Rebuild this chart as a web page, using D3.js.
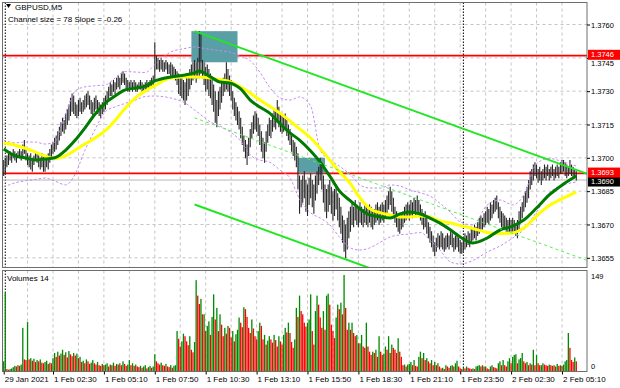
<!DOCTYPE html>
<html><head><meta charset="utf-8">
<script src="https://cdn.jsdelivr.net/npm/d3@7"></script>
<style>
body{margin:0;background:#fff}
svg{display:block}
text{font-family:"Liberation Sans",Arial,sans-serif;fill:#000}
</style></head>
<body><svg id="chart" width="620" height="388"></svg>
<script>
// ---------------- DATA ----------------
const symbolTitle = "GBPUSD,M5";
const channelTitle = "Channel size = 78 Slope = -0.26";
const volumeTitle = "Volumes 14";
const priceTicks = [1.3760,1.3745,1.3730,1.3715,1.3700,1.3685,1.3670,1.3655];
const timeLabelBars = [0,31,63,95,127,159,191,223,255,287,319,351];
const timeLabels = ["29 Jan 2021","1 Feb 02:30","1 Feb 05:10","1 Feb 07:50","1 Feb 10:30","1 Feb 13:10","1 Feb 15:50","1 Feb 18:30","1 Feb 21:10","1 Feb 23:50","2 Feb 02:30","2 Feb 05:10"];
const daySeparatorBars = [1,289];
const volumeTickLabels = [149,0];

const high = [
1.3699,1.3700,1.3701,1.3702,1.3703,1.3702,1.3704,1.3703,1.3702,1.3703,
1.3704,1.3703,1.3706,1.3708,1.3705,1.3702,1.3701,1.3702,1.3700,1.3701,
1.3703,1.3702,1.3701,1.3700,1.3702,1.3701,1.3699,1.3701,1.3702,1.3704,
1.3706,1.3707,1.3709,1.3710,1.3712,1.3714,1.3716,1.3718,1.3717,1.3720,
1.3722,1.3724,1.3727,1.3729,1.3728,1.3725,1.3724,1.3726,1.3727,1.3725,
1.3726,1.3728,1.3729,1.3730,1.3728,1.3726,1.3725,1.3727,1.3728,1.3726,
1.3725,1.3724,1.3725,1.3727,1.3728,1.3730,1.3732,1.3734,1.3733,1.3735,
1.3734,1.3736,1.3737,1.3736,1.3738,1.3739,1.3738,1.3736,1.3735,1.3734,
1.3735,1.3734,1.3735,1.3734,1.3733,1.3734,1.3735,1.3734,1.3733,1.3734,
1.3735,1.3734,1.3735,1.3736,1.3737,1.3752,1.3746,1.3745,1.3744,1.3745,
1.3744,1.3743,1.3744,1.3743,1.3742,1.3743,1.3742,1.3741,1.3740,1.3739,
1.3738,1.3736,1.3737,1.3735,1.3734,1.3736,1.3738,1.3740,1.3742,1.3743,
1.3744,1.3743,1.3745,1.3757,1.3756,1.3744,1.3743,1.3741,1.3742,1.3740,
1.3738,1.3736,1.3733,1.3730,1.3726,1.3730,1.3732,1.3734,1.3736,1.3738,
1.3743,1.3740,1.3737,1.3735,1.3730,1.3727,1.3725,1.3723,1.3721,1.3718,
1.3714,1.3710,1.3708,1.3706,1.3709,1.3713,1.3716,1.3719,1.3721,1.3720,
1.3718,1.3715,1.3712,1.3709,1.3707,1.3712,1.3715,1.3718,1.3717,1.3720,
1.3722,1.3721,1.3726,1.3723,1.3720,1.3719,1.3718,1.3720,1.3717,1.3715,
1.3713,1.3710,1.3708,1.3707,1.3705,1.3702,1.3692,1.3690,1.3692,1.3694,
1.3690,1.3688,1.3691,1.3693,1.3690,1.3688,1.3692,1.3694,1.3696,1.3700,
1.3697,1.3692,1.3688,1.3686,1.3688,1.3690,1.3687,1.3685,1.3686,1.3688,
1.3684,1.3682,1.3678,1.3674,1.3672,1.3670,1.3673,1.3676,1.3678,1.3680,
1.3678,1.3681,1.3679,1.3678,1.3680,1.3678,1.3677,1.3679,1.3678,1.3677,
1.3679,1.3678,1.3676,1.3677,1.3679,1.3680,1.3678,1.3679,1.3680,1.3679,
1.3681,1.3683,1.3685,1.3687,1.3685,1.3682,1.3678,1.3676,1.3674,1.3673,
1.3675,1.3676,1.3678,1.3679,1.3680,1.3679,1.3681,1.3680,1.3682,1.3681,
1.3683,1.3681,1.3679,1.3677,1.3675,1.3676,1.3673,1.3671,1.3669,1.3667,
1.3665,1.3662,1.3664,1.3666,1.3665,1.3667,1.3666,1.3664,1.3665,1.3666,
1.3665,1.3667,1.3666,1.3664,1.3665,1.3666,1.3664,1.3663,1.3662,1.3664,
1.3666,1.3665,1.3667,1.3666,1.3669,1.3668,1.3670,1.3669,1.3671,1.3673,
1.3674,1.3673,1.3675,1.3676,1.3678,1.3677,1.3680,1.3679,1.3681,1.3682,
1.3683,1.3680,1.3678,1.3676,1.3675,1.3674,1.3673,1.3672,1.3673,1.3672,
1.3673,1.3672,1.3670,1.3672,1.3676,1.3678,1.3680,1.3683,1.3685,1.3687,
1.3690,1.3694,1.3695,1.3697,1.3698,1.3697,1.3695,1.3696,1.3694,1.3695,
1.3697,1.3696,1.3697,1.3695,1.3696,1.3697,1.3695,1.3696,1.3697,1.3696,
1.3698,1.3699,1.3699,1.3698,1.3697,1.3696,1.3699,1.3697,1.3696,1.3695,1.3694];

const low = [
1.3692,1.3693,1.3696,1.3697,1.3699,1.3698,1.3700,1.3699,1.3698,1.3700,
1.3700,1.3699,1.3701,1.3702,1.3699,1.3697,1.3696,1.3695,1.3694,1.3697,
1.3699,1.3698,1.3696,1.3695,1.3696,1.3694,1.3694,1.3696,1.3695,1.3698,
1.3700,1.3702,1.3703,1.3704,1.3706,1.3708,1.3710,1.3712,1.3711,1.3713,
1.3715,1.3717,1.3719,1.3721,1.3720,1.3719,1.3718,1.3719,1.3721,1.3720,
1.3721,1.3722,1.3723,1.3724,1.3722,1.3720,1.3719,1.3721,1.3722,1.3720,
1.3719,1.3718,1.3720,1.3721,1.3722,1.3724,1.3726,1.3728,1.3728,1.3730,
1.3729,1.3731,1.3732,1.3731,1.3733,1.3734,1.3733,1.3731,1.3730,1.3730,
1.3731,1.3730,1.3731,1.3730,1.3730,1.3731,1.3731,1.3730,1.3730,1.3731,
1.3731,1.3731,1.3732,1.3732,1.3733,1.3735,1.3740,1.3740,1.3739,1.3740,
1.3739,1.3739,1.3740,1.3738,1.3738,1.3737,1.3737,1.3736,1.3735,1.3733,
1.3729,1.3728,1.3727,1.3726,1.3724,1.3726,1.3728,1.3731,1.3733,1.3735,
1.3736,1.3734,1.3736,1.3736,1.3738,1.3736,1.3733,1.3730,1.3731,1.3728,
1.3727,1.3724,1.3721,1.3716,1.3714,1.3719,1.3722,1.3725,1.3728,1.3730,
1.3731,1.3730,1.3728,1.3726,1.3722,1.3719,1.3717,1.3715,1.3713,1.3709,
1.3706,1.3703,1.3700,1.3697,1.3701,1.3705,1.3709,1.3711,1.3713,1.3712,
1.3710,1.3706,1.3703,1.3700,1.3698,1.3703,1.3707,1.3710,1.3709,1.3712,
1.3714,1.3713,1.3716,1.3714,1.3712,1.3711,1.3712,1.3713,1.3710,1.3708,
1.3706,1.3703,1.3701,1.3699,1.3696,1.3686,1.3675,1.3678,1.3680,1.3682,
1.3676,1.3674,1.3679,1.3682,1.3678,1.3675,1.3681,1.3684,1.3688,1.3690,
1.3686,1.3680,1.3676,1.3673,1.3676,1.3679,1.3675,1.3672,1.3674,1.3677,
1.3672,1.3669,1.3666,1.3662,1.3658,1.3655,1.3659,1.3664,1.3667,1.3670,
1.3669,1.3672,1.3670,1.3669,1.3671,1.3670,1.3669,1.3671,1.3670,1.3669,
1.3671,1.3669,1.3668,1.3670,1.3671,1.3672,1.3670,1.3671,1.3672,1.3671,
1.3673,1.3675,1.3677,1.3679,1.3676,1.3674,1.3671,1.3669,1.3667,1.3666,
1.3668,1.3669,1.3671,1.3672,1.3673,1.3672,1.3674,1.3673,1.3675,1.3674,
1.3676,1.3674,1.3672,1.3670,1.3668,1.3669,1.3666,1.3664,1.3662,1.3660,
1.3658,1.3656,1.3658,1.3660,1.3659,1.3660,1.3659,1.3658,1.3659,1.3660,
1.3659,1.3661,1.3660,1.3658,1.3659,1.3660,1.3658,1.3657,1.3657,1.3658,
1.3659,1.3660,1.3661,1.3660,1.3662,1.3663,1.3664,1.3663,1.3665,1.3666,
1.3667,1.3668,1.3669,1.3670,1.3671,1.3670,1.3672,1.3673,1.3675,1.3676,
1.3677,1.3673,1.3671,1.3669,1.3668,1.3668,1.3667,1.3666,1.3667,1.3667,
1.3667,1.3666,1.3665,1.3664,1.3668,1.3671,1.3673,1.3676,1.3678,1.3680,
1.3682,1.3686,1.3688,1.3690,1.3692,1.3691,1.3689,1.3690,1.3688,1.3690,
1.3691,1.3690,1.3692,1.3690,1.3691,1.3692,1.3690,1.3691,1.3692,1.3691,
1.3693,1.3693,1.3694,1.3692,1.3691,1.3692,1.3693,1.3692,1.3691,1.3691,1.3690];

const volume = [
15,122,3,2,3,4,6,8,7,9, 8,10,67,18,17,76,18,20,16,19,
14,17,15,18,13,12,14,16,11,13, 12,20,28,22,30,24,27,33,25,29,
21,31,26,23,28,24,27,20,22,14, 16,12,18,15,11,13,17,12,10,14,
9,8,11,9,10,12,7,10,9,13, 8,11,10,12,9,15,11,8,10,17,
9,12,8,10,7,6,8,5,7,9, 4,6,8,5,7,26,15,12,10,13,
9,8,11,7,6,9,5,8,9,62, 50,38,46,58,54,46,40,54,33,29,
45,141,117,104,112,88,88,62,70,77, 56,84,119,80,98,62,88,72,54,67,
58,70,67,52,62,46,57,64,83,75, 68,99,96,84,67,59,80,66,54,49,
62,75,70,49,56,41,47,54,49,44, 56,48,38,54,46,41,56,67,60,75,
59,45,36,49,98,84,117,93,88,75, 69,75,80,
119,62,41,93,117,103,83,67,93,64,117,120,103,72,62,51,83,103,96,106,88,
149,98,64,75,64,75,59,54,56,43,43,56,38,36,75,38,30,25,30,28,33,22,54,30,25,27,
38,33,54,28,41,36,33,28,51,30,22,9,10,7,10,11,
14,9,17,8,7,22,30,20,28,17,20,15,12,17,9,14,9,12,7,4,5,
3,9,7,5,8,9,7,12,16,7,4,3,5,4,7,5,
4,3,4,3,7,8,9,7,9,7,7,4,3,7,9,6,
5,4,12,15,9,17,9,7,15,20,12,22,25,26,12,18,
20,28,15,12,14,9,12,10,33,9,25,12,9,9,12,10,
9,8,10,9,8,9,7,11,8,9,8,
10,15,17,59,36,17,14,21,15];

const maBars = [0,7,13,20,26,32,39,45,51,57,64,70,76,83,89,95,105,114,120,123,130,136,142,149,155,161,167,174,180,186,193,199,205,211,218,224,230,237,243,249,255,262,268,274,281,287,295,304,312,320,327,335,343,352,360];
const greenMA = [1.3704,1.3701,1.3700,1.3699,1.36995,1.3700,1.37035,1.3708,1.37134,1.37193,1.37247,1.37278,1.37305,1.37314,1.37323,1.37346,1.37364,1.37373,1.37382,1.37391,1.37364,1.37341,1.37337,1.37310,1.37260,1.37229,1.37202,1.37152,1.37112,1.37080,1.37031,1.36981,1.36918,1.36851,1.36806,1.36770,1.36743,1.36734,1.36729,1.36747,1.36756,1.36747,1.36729,1.36707,1.36675,1.36644,1.36617,1.36639,1.36675,1.36693,1.36720,1.36774,1.36833,1.36882,1.36918];
const yellowMA = [1.37067,1.37058,1.37044,1.37026,1.37008,1.36997,1.37010,1.37035,1.37062,1.37087,1.37123,1.37168,1.37220,1.37271,1.37301,1.37325,1.37359,1.37364,1.37364,1.37364,1.37359,1.37352,1.37343,1.37319,1.37292,1.37260,1.37233,1.37199,1.37166,1.37130,1.37089,1.37042,1.36990,1.36938,1.36884,1.36819,1.36772,1.36752,1.36743,1.36734,1.36734,1.36738,1.36734,1.36716,1.36707,1.36695,1.36682,1.36664,1.36659,1.36662,1.36684,1.36738,1.36785,1.36819,1.36846];
const upperBand = [1.37080,1.37067,1.37071,1.37071,1.37062,1.37070,1.37202,1.37301,1.37319,1.37324,1.37328,1.37359,1.37388,1.37386,1.37384,1.37419,1.37476,1.37492,1.37499,1.37496,1.37488,1.37482,1.37476,1.37457,1.37437,1.37386,1.37320,1.37269,1.37260,1.37274,1.37233,1.37035,1.36990,1.36963,1.36923,1.36878,1.36864,1.36864,1.36878,1.36873,1.36857,1.36842,1.36828,1.36797,1.36754,1.36711,1.36698,1.36788,1.36810,1.36788,1.36833,1.36974,1.36997,1.36981,1.36963];
const lowerBand = [1.36869,1.36887,1.36896,1.36903,1.36909,1.36896,1.36878,1.36927,1.37033,1.37121,1.37208,1.37229,1.37244,1.37260,1.37276,1.37278,1.37269,1.37247,1.37215,1.37199,1.37161,1.37143,1.37118,1.37076,1.37013,1.36990,1.36981,1.36943,1.36909,1.36815,1.36752,1.36729,1.36698,1.36644,1.36594,1.36585,1.36594,1.36621,1.36644,1.36653,1.36657,1.36664,1.36630,1.36587,1.36531,1.36522,1.36538,1.36576,1.36603,1.36639,1.36677,1.36756,1.36842,1.36878,1.36891];

const levelPrices = [1.3746, 1.3693];
const bidPrice = 1.3690;
const boxBars = [[118,147],[185,202]];
const boxPrices = [[1.3757,1.3743],[1.3700,1.3693]];
const channelBars = [120,370];
const channelUpper = [1.3757,1.3692];
const channelMid = [1.3718,1.3653];
const channelLower = [1.3679,1.3614];

// ---------------- LAYOUT ----------------
const L=2.5, R=587, T=2.5, B=267.5, VT=270.5, VB=371.5;
const svg = d3.select("#chart");
const x = d3.scaleLinear().domain([0,360]).range([3.7,576.3]);
const y = d3.scaleLinear().domain([1.3655,1.3760]).range([257.8,24.5]);
const yv = d3.scaleLinear().domain([0,149]).range([371,275]);

const defs = svg.append("defs");
defs.append("clipPath").attr("id","mainClip").append("rect").attr("x",L).attr("y",T).attr("width",R-L).attr("height",B-T);
defs.append("clipPath").attr("id","volClip").append("rect").attr("x",L).attr("y",VT).attr("width",R-L).attr("height",VB-VT);

svg.append("rect").attr("width",620).attr("height",388).attr("fill","#fff");

const main = svg.append("g").attr("clip-path","url(#mainClip)");
const vol = svg.append("g").attr("clip-path","url(#volClip)");

// grid
const gridBars = d3.range(15, 361, 16);
main.selectAll(".hg").data(priceTicks).join("line")
  .attr("x1",L).attr("x2",R).attr("y1",d=>y(d)).attr("y2",d=>y(d))
  .attr("stroke","#c4c4c4").attr("stroke-dasharray","3,3");
[main,vol].forEach((g,k)=>{
  g.selectAll(".vg").data(gridBars.filter(b=>!daySeparatorBars.includes(b))).join("line")
    .attr("x1",d=>x(d)).attr("x2",d=>x(d)).attr("y1",k?VT:T).attr("y2",k?VB:B)
    .attr("stroke","#c4c4c4").attr("stroke-dasharray","3,3");
  g.selectAll(".ds").data(daySeparatorBars).join("line")
    .attr("x1",d=>x(d)).attr("x2",d=>x(d)).attr("y1",k?VT:T).attr("y2",k?VB:B)
    .attr("stroke","#000").attr("stroke-dasharray","1.5,1.5");
});

// red level lines + bid line
main.selectAll(".lvl").data(levelPrices).join("line")
  .attr("x1",L).attr("x2",R).attr("y1",d=>y(d)).attr("y2",d=>y(d))
  .attr("stroke","#ff0000").attr("stroke-width",1.6);
main.append("line").attr("x1",L).attr("x2",R).attr("y1",y(bidPrice)).attr("y2",y(bidPrice))
  .attr("stroke","#b8b8b8").attr("stroke-width",1);

// boxes
main.selectAll(".box").data(boxBars).join("rect")
  .attr("x",d=>x(d[0])).attr("width",d=>x(d[1])-x(d[0]))
  .attr("y",(d,i)=>y(boxPrices[i][0])).attr("height",(d,i)=>y(boxPrices[i][1])-y(boxPrices[i][0]))
  .attr("fill","#5a9ea6");

// candles (bars)
main.append("g").selectAll("line").data(high).join("line")
  .attr("x1",(d,i)=>x(i)).attr("x2",(d,i)=>x(i))
  .attr("y1",d=>y(d)).attr("y2",(d,i)=>y(low[i])+0.5)
  .attr("stroke","#262626").attr("stroke-width",1.1);

// bands & MAs
const line = arr => d3.line().x((d,i)=>x(maBars[i])).y(d=>y(d)).curve(d3.curveMonotoneX)(arr);
[upperBand, lowerBand].forEach(a=>{
  main.append("path").attr("d",line(a)).attr("fill","none")
    .attr("stroke","#c58af0").attr("stroke-width",1).attr("stroke-dasharray","2.5,2");
});
main.append("path").attr("d",line(yellowMA)).attr("fill","none").attr("stroke","#ffff00").attr("stroke-width",3);
main.append("path").attr("d",line(greenMA)).attr("fill","none").attr("stroke","#007a00").attr("stroke-width",3);

// channel
const cl = arr => d3.line().x((d,i)=>x(channelBars[i])).y(d=>y(d))(arr);
main.append("path").attr("d",cl(channelUpper)).attr("stroke","#22e622").attr("stroke-width",2).attr("fill","none");
main.append("path").attr("d",cl(channelLower)).attr("stroke","#22e622").attr("stroke-width",2).attr("fill","none");
main.append("path").attr("d",cl(channelMid)).attr("stroke","#55ee55").attr("stroke-width",1).attr("stroke-dasharray","3,3").attr("fill","none");

// volume bars
vol.append("g").selectAll("rect").data(volume).join("rect")
  .attr("x",(d,i)=>x(i)-0.65).attr("width",1.3)
  .attr("y",d=>yv(d)).attr("height",d=>yv(0)-yv(d))
  .attr("fill",(d,i)=> (i>0 && d<volume[i-1]) ? "#ff0000" : "#008a00");

// panel borders
svg.append("rect").attr("x",L).attr("y",T).attr("width",R-L).attr("height",B-T).attr("fill","none").attr("stroke","#6e6e6e");
svg.append("rect").attr("x",L).attr("y",VT).attr("width",R-L).attr("height",VB-VT).attr("fill","none").attr("stroke","#6e6e6e");

// price axis (the 1.3745 tick label peeks out just under the 1.3746 tag, as in the reference)
const pAxis = svg.append("g").attr("transform",`translate(${R},0)`)
  .call(d3.axisRight(y).tickValues(priceTicks).tickSize(3).tickFormat(d3.format(".4f")));
pAxis.select(".domain").remove();
pAxis.selectAll("text").attr("x",4).attr("font-size","7.5px").attr("font-family","Liberation Sans, Arial, sans-serif")
  .attr("dy",d=> d===1.3745 ? "1.0em" : "0.35em");
pAxis.selectAll("line").attr("stroke","#000");

// price tags
const tags = [{p:bidPrice,c:"#000",o:1.5},{p:levelPrices[1],c:"#ff0000",o:-0.8},{p:levelPrices[0],c:"#ff0000",o:-0.8}];
tags.forEach(t=>{
  const cy = y(t.p)+t.o;
  svg.append("rect").attr("x",R+1).attr("y",cy-5).attr("width",620-R-1).attr("height",10).attr("fill",t.c);
  svg.append("text").attr("x",R+4).attr("y",cy).attr("dy","0.35em").attr("font-size","7.5px")
    .style("fill","#fff").text(d3.format(".4f")(t.p));
});

// volume axis labels
svg.selectAll(".vl").data(volumeTickLabels).join("text")
  .attr("x",R+4).attr("y",d=>d? yv(d)+1 : yv(d)-5).attr("dy","0.35em").attr("font-size","7.5px").text(d=>d);

// time axis
const tAxis = svg.append("g").attr("transform",`translate(0,${VB})`)
  .call(d3.axisBottom(x).tickValues(timeLabelBars).tickSize(3).tickFormat((d,i)=>timeLabels[i]));
tAxis.select(".domain").remove();
tAxis.selectAll("line").attr("stroke","#000");
tAxis.selectAll("text").attr("text-anchor","start").attr("x",0.5).attr("y",5).attr("font-size","8px")
  .attr("font-family","Liberation Sans, Arial, sans-serif");

// titles
svg.append("path").attr("d","M6,4 L11,4 L8.5,8 Z").attr("fill","#000");
svg.append("text").attr("x",15).attr("y",10).attr("font-size","8px").text(symbolTitle);
svg.append("text").attr("x",8).attr("y",22).attr("font-size","8px").text(channelTitle);
svg.append("text").attr("x",7).attr("y",281).attr("font-size","8px").text(volumeTitle);
</script></body></html>
